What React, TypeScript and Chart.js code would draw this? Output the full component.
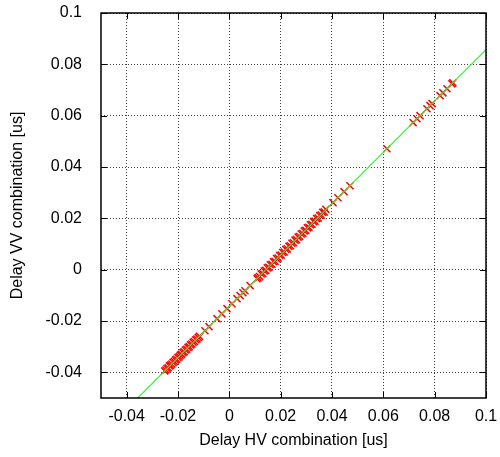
import React, { useEffect, useRef } from "react";
import { Chart, registerables } from "chart.js";

Chart.register(...registerables);

// Axis ticks
const xTickValues = [-0.04, -0.02, 0, 0.02, 0.04, 0.06, 0.08, 0.1];
const yTickValues = [-0.04, -0.02, 0, 0.02, 0.04, 0.06, 0.08, 0.1];

const hvDelay = [
  -0.0252, -0.0247, -0.0243, -0.0238, -0.0233, -0.0229, -0.0224, -0.0219, -0.0214, -0.021,
  -0.0205, -0.02, -0.0195, -0.0191, -0.0186, -0.0181, -0.0176, -0.0171, -0.0166, -0.0161,
  -0.0156, -0.0151, -0.0146, -0.0141, -0.0136, -0.0131, -0.0126, -0.0121, -0.0116,
  -0.0095, -0.0079, -0.0048, -0.0029, -0.0009, 0.001, 0.003, 0.0042, 0.0053, 0.0061, 0.0081, 0.0108,
  0.0112, 0.0118, 0.0124, 0.013, 0.0136, 0.0142, 0.0148, 0.0154, 0.016, 0.0166,
  0.0172, 0.0178, 0.0184, 0.019, 0.0196, 0.0202, 0.0208, 0.0214, 0.022, 0.0226,
  0.0232, 0.0238, 0.0244, 0.025, 0.0256, 0.0262, 0.0268, 0.0274, 0.028, 0.0286,
  0.0292, 0.0298, 0.0304, 0.031, 0.0316, 0.0322, 0.0328, 0.0334, 0.034, 0.0346,
  0.0352, 0.0358, 0.0364, 0.037, 0.0376,
  0.0404, 0.0423, 0.0447, 0.047,
  0.0614,
  0.0716, 0.0731, 0.0743, 0.077, 0.0782, 0.079, 0.0821, 0.0832, 0.0848, 0.0867, 0.0871,
];
const vvDelay = [
  -0.0395, -0.0391, -0.0385, -0.0382, -0.0375, -0.0372, -0.0368, -0.0361, -0.0358, -0.0352,
  -0.0349, -0.0342, -0.0339, -0.0333, -0.033, -0.0323, -0.032, -0.0313, -0.031, -0.0303,
  -0.03, -0.0293, -0.029, -0.0283, -0.028, -0.0273, -0.027, -0.0264, -0.026,
  -0.0238, -0.0222, -0.0191, -0.0172, -0.0152, -0.0133, -0.0113, -0.0101, -0.009, -0.0082, -0.0062, -0.0035,
  -0.0031, -0.0027, -0.0017, -0.0015, -0.0005, -0.0003, 0.0007, 0.0009, 0.0019, 0.0021,
  0.0031, 0.0033, 0.0043, 0.0045, 0.0055, 0.0057, 0.0067, 0.0069, 0.0079, 0.0081,
  0.0091, 0.0093, 0.0103, 0.0105, 0.0115, 0.0117, 0.0127, 0.0129, 0.0139, 0.0141,
  0.0151, 0.0153, 0.0163, 0.0165, 0.0175, 0.0177, 0.0187, 0.0189, 0.0199, 0.0201,
  0.0211, 0.0213, 0.0223, 0.0225, 0.0235,
  0.0261, 0.028, 0.0304, 0.0327,
  0.0471,
  0.0573, 0.0588, 0.06, 0.0627, 0.0639, 0.0647, 0.0678, 0.0689, 0.0705, 0.0724, 0.0728,
];

// Fit line endpoints
const fitX = [-0.05, 0.1];
const fitY = [-0.0643, 0.0857];

const FONT = { family: "'Liberation Sans', Arial, Helvetica, sans-serif", size: 16 };

const framePlugin = {
  id: "gnuFrame",
  afterDatasetsDraw(chart: any) {
    const { ctx, chartArea, scales } = chart;
    const { left, right, top, bottom } = chartArea;
    ctx.save();
    ctx.strokeStyle = "#000";
    ctx.lineWidth = 1;
    const tl = 6;
    ctx.beginPath();
    xTickValues.forEach((v) => {
      const px = Math.round(scales.x.getPixelForValue(v)) + 0.5;
      ctx.moveTo(px, bottom);
      ctx.lineTo(px, bottom - tl);
      ctx.moveTo(px, top);
      ctx.lineTo(px, top + tl);
    });
    yTickValues.forEach((v) => {
      const py = Math.round(scales.y.getPixelForValue(v)) + 0.5;
      ctx.moveTo(left, py);
      ctx.lineTo(left + tl, py);
      ctx.moveTo(right, py);
      ctx.lineTo(right - tl, py);
    });
    ctx.stroke();
    ctx.lineWidth = 1.5;
    ctx.strokeRect(left, top, right - left, bottom - top);
    ctx.restore();
  },
};

export default function App() {
  const ref = useRef<HTMLCanvasElement | null>(null);
  useEffect(() => {
    if (!ref.current) return;
    const points = hvDelay.map((x, i) => ({ x, y: vvDelay[i] }));
    const line = fitX.map((x, i) => ({ x, y: fitY[i] }));
    const chart = new Chart(ref.current, {
      type: "scatter",
      data: {
        datasets: [
          {
            label: "fit",
            data: line,
            showLine: true,
            borderColor: "#3cf03c",
            borderWidth: 1.2,
            pointRadius: 0,
          },
          {
            label: "data",
            data: points,
            pointStyle: "crossRot",
            pointRadius: 5,
            borderColor: "#ff0000",
            backgroundColor: "#ff0000",
            borderWidth: 1.5,
          },
        ],
      },
      options: {
        responsive: false,
        animation: false,
        events: [],
        layout: { padding: { top: 13, right: 14, left: 0, bottom: 0 } },
        plugins: { legend: { display: false }, tooltip: { enabled: false } },
        scales: {
          x: {
            type: "linear",
            min: -0.05,
            max: 0.1,
            afterBuildTicks: (scale: any) => {
              scale.ticks = xTickValues.map((v) => ({ value: v }));
            },
            afterFit: (scale: any) => {
              scale.height = 59;
              scale.paddingLeft = 0;
              scale.paddingRight = 0;
            },
            grid: { color: "rgba(0,0,0,0.75)", drawTicks: false, lineWidth: 1 },
            border: { display: false, dash: [1, 2] },
            ticks: {
              padding: 9,
              color: "#000",
              font: FONT,
              maxRotation: 0,
              autoSkip: false,
              callback: (v: any) => String(v),
            },
            title: {
              display: true,
              text: "Delay HV combination [us]",
              color: "#000",
              font: FONT,
              padding: { top: 0, bottom: 7 },
            },
          },
          y: {
            type: "linear",
            min: -0.05,
            max: 0.1,
            afterBuildTicks: (scale: any) => {
              scale.ticks = yTickValues.map((v) => ({ value: v }));
            },
            afterFit: (scale: any) => {
              scale.width = 101;
              scale.paddingTop = 0;
              scale.paddingBottom = 0;
            },
            grid: { color: "rgba(0,0,0,0.75)", drawTicks: false, lineWidth: 1 },
            border: { display: false, dash: [1, 2] },
            ticks: {
              padding: 19,
              color: "#000",
              font: FONT,
              autoSkip: false,
              callback: (v: any) => String(v),
            },
            title: {
              display: true,
              text: "Delay VV combination [us]",
              color: "#000",
              font: FONT,
              padding: { top: 8, bottom: 0 },
            },
          },
        },
      },
      plugins: [framePlugin],
    });
    return () => chart.destroy();
  }, []);
  return (
    <div style={{ position: "fixed", left: 0, top: 0, width: 500, height: 457, background: "#fff" }}>
      <canvas ref={ref} width={500} height={457} style={{ display: "block" }} />
    </div>
  );
}
